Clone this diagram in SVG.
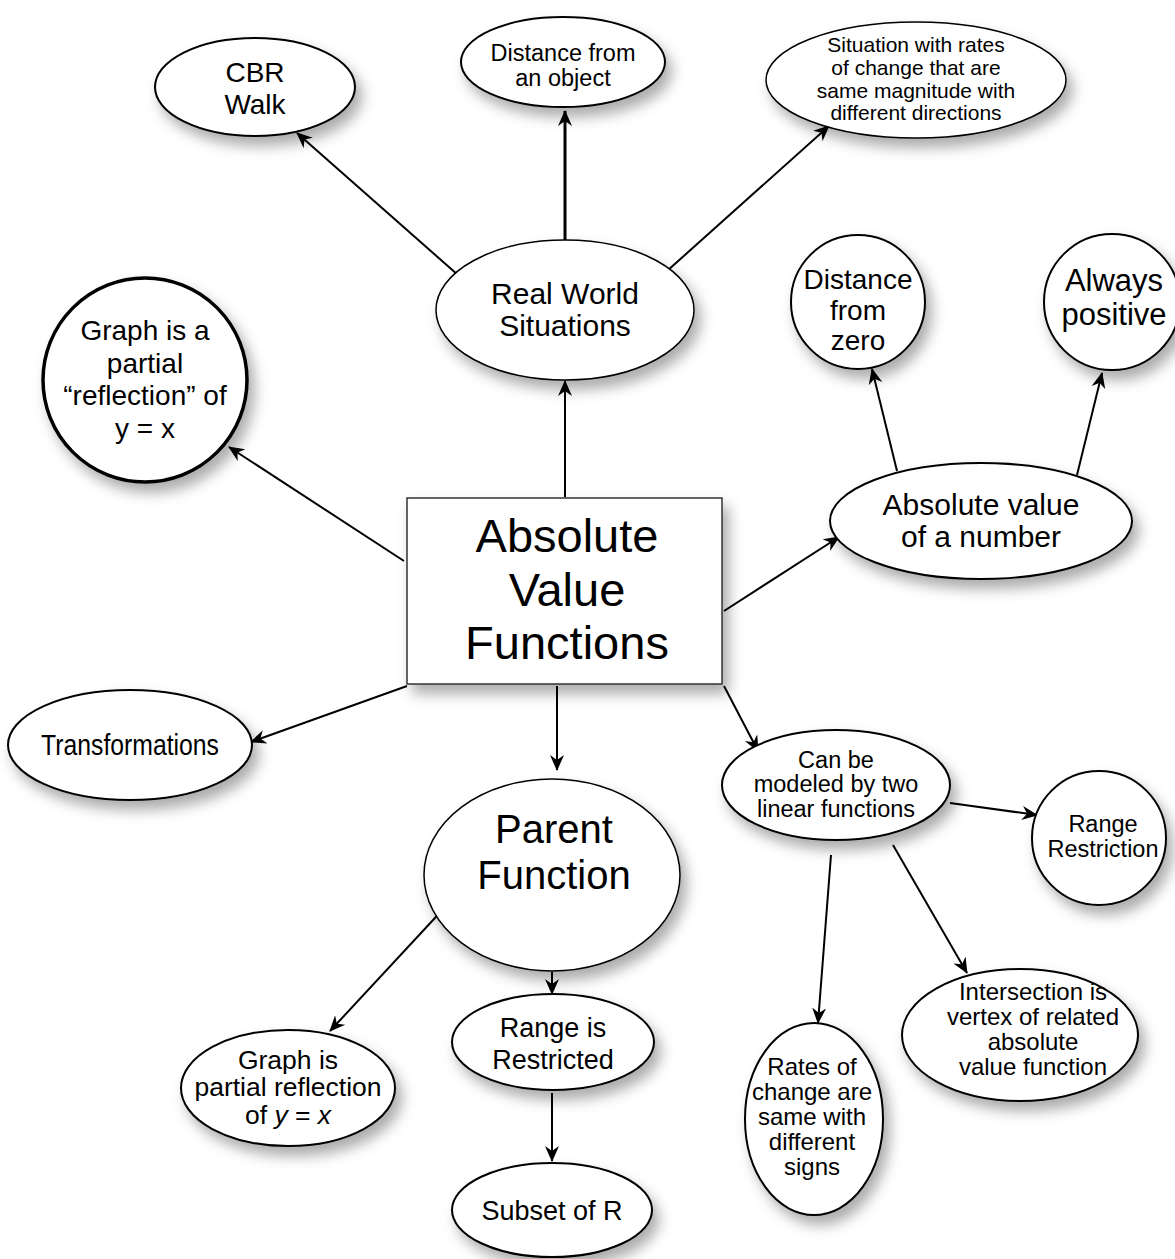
<svg xmlns="http://www.w3.org/2000/svg" width="1175" height="1259" viewBox="0 0 1175 1259">
<defs>
<filter id="sh" x="-20%" y="-20%" width="150%" height="160%">
<feDropShadow dx="6" dy="9" stdDeviation="7" flood-color="#000" flood-opacity="0.33"/>
</filter>
<marker id="ar" viewBox="0 0 16 16" refX="15" refY="8" markerWidth="16" markerHeight="16" markerUnits="userSpaceOnUse" orient="auto">
<path d="M0,1 L16,8 L0,15 L5,8 z" fill="#000"/>
</marker>
</defs>
<style>
.n{fill:#fff;stroke:#000;stroke-width:2;filter:url(#sh)}
.t{font-family:"Liberation Sans",Arial,sans-serif;fill:#000;text-anchor:middle}
.c{stroke:#000;stroke-width:2;fill:none;marker-end:url(#ar)}
</style>
<rect width="1175" height="1259" fill="#fff"/>

<g id="connectors">
<line class="c" x1="565" y1="240" x2="565" y2="111" style="stroke-width:3"/>
<line class="c" x1="458" y1="275" x2="297" y2="133"/>
<line class="c" x1="667" y1="271" x2="829" y2="126"/>
<line class="c" x1="565" y1="497" x2="565" y2="381"/>
<line class="c" x1="404" y1="561" x2="229" y2="447"/>
<line class="c" x1="724" y1="611" x2="839" y2="537"/>
<line class="c" x1="897" y1="471" x2="872" y2="369"/>
<line class="c" x1="1077" y1="475" x2="1102" y2="373"/>
<line class="c" x1="407" y1="686" x2="251" y2="742"/>
<line class="c" x1="557" y1="686" x2="557" y2="770"/>
<line class="c" x1="724" y1="686" x2="758" y2="751"/>
<line class="c" x1="950" y1="803" x2="1037" y2="815"/>
<line class="c" x1="831" y1="855" x2="818" y2="1023"/>
<line class="c" x1="893" y1="845" x2="967" y2="973"/>
<line class="c" x1="447" y1="905" x2="330" y2="1031"/>
<line class="c" x1="552" y1="972" x2="552" y2="994"/>
<line class="c" x1="552" y1="1093" x2="552" y2="1161"/>
</g>

<g id="main">
<rect class="n" x="407" y="498" width="315" height="186" style="stroke:#333;stroke-width:1.5"/>
<text class="t" font-size="47"><tspan x="567" y="552">Absolute</tspan><tspan x="567" y="606">Value</tspan><tspan x="567" y="659">Functions</tspan></text>
</g>

<g id="realworld">
<ellipse class="n" cx="565" cy="310" rx="129" ry="70" style="stroke-width:1.5"/>
<text class="t" font-size="30"><tspan x="565" y="304">Real World</tspan><tspan x="565" y="336">Situations</tspan></text>
</g>

<g id="cbr">
<ellipse class="n" cx="255" cy="87" rx="100" ry="49"/>
<text class="t" font-size="28"><tspan x="255" y="82">CBR</tspan><tspan x="255" y="114">Walk</tspan></text>
</g>

<g id="distobj">
<ellipse class="n" cx="563" cy="62" rx="102" ry="45"/>
<text class="t" font-size="23.5"><tspan x="563" y="61">Distance from</tspan><tspan x="563" y="86">an object</tspan></text>
</g>

<g id="situation">
<ellipse class="n" cx="916" cy="80" rx="150" ry="58" style="stroke-width:1.5"/>
<text class="t" font-size="21"><tspan x="916" y="52">Situation with rates</tspan><tspan x="916" y="75">of change that are</tspan><tspan x="916" y="98">same magnitude with</tspan><tspan x="916" y="120">different directions</tspan></text>
</g>

<g id="reflection1">
<circle class="n" cx="145" cy="380" r="102" style="stroke-width:3.5"/>
<text class="t" font-size="28"><tspan x="145" y="340">Graph is a</tspan><tspan x="145" y="373">partial</tspan><tspan x="145" y="405">“reflection” of</tspan><tspan x="145" y="438">y = x</tspan></text>
</g>

<g id="distzero">
<circle class="n" cx="858" cy="302" r="67"/>
<text class="t" font-size="28"><tspan x="858" y="289">Distance</tspan><tspan x="858" y="320">from</tspan><tspan x="858" y="350">zero</tspan></text>
</g>

<g id="positive">
<circle class="n" cx="1112" cy="302" r="68"/>
<text class="t" font-size="31"><tspan x="1114" y="291">Always</tspan><tspan x="1114" y="325">positive</tspan></text>
</g>

<g id="absnumber">
<ellipse class="n" cx="981" cy="521" rx="151" ry="58"/>
<text class="t" font-size="30"><tspan x="981" y="515">Absolute value</tspan><tspan x="981" y="547">of a number</tspan></text>
</g>

<g id="transformations">
<ellipse class="n" cx="130" cy="745" rx="122" ry="55"/>
<text class="t" font-size="29" x="130" y="755" textLength="178" lengthAdjust="spacingAndGlyphs">Transformations</text>
</g>

<g id="parent">
<ellipse class="n" cx="552" cy="875" rx="128" ry="96" style="stroke-width:1.5"/>
<text class="t" font-size="40"><tspan x="554" y="843">Parent</tspan><tspan x="554" y="889">Function</tspan></text>
</g>

<g id="linear">
<ellipse class="n" cx="836" cy="785" rx="114" ry="55"/>
<text class="t" font-size="23.5"><tspan x="836" y="768">Can be</tspan><tspan x="836" y="792">modeled by two</tspan><tspan x="836" y="817">linear functions</tspan></text>
</g>

<g id="rangerestriction">
<circle class="n" cx="1099" cy="838" r="67"/>
<text class="t" font-size="23.5"><tspan x="1103" y="832">Range</tspan><tspan x="1103" y="857">Restriction</tspan></text>
</g>

<g id="rates">
<ellipse class="n" cx="814" cy="1119" rx="69" ry="96"/>
<text class="t" font-size="24"><tspan x="812" y="1075">Rates of</tspan><tspan x="812" y="1100">change are</tspan><tspan x="812" y="1125">same with</tspan><tspan x="812" y="1150">different</tspan><tspan x="812" y="1175">signs</tspan></text>
</g>

<g id="intersection">
<ellipse class="n" cx="1020" cy="1035" rx="118" ry="66"/>
<text class="t" font-size="24"><tspan x="1033" y="1000">Intersection is</tspan><tspan x="1033" y="1025">vertex of related</tspan><tspan x="1033" y="1050">absolute</tspan><tspan x="1033" y="1075">value function</tspan></text>
</g>

<g id="reflection2">
<ellipse class="n" cx="288" cy="1088" rx="107" ry="58"/>
<text class="t" font-size="26.5"><tspan x="288" y="1069">Graph is</tspan><tspan x="288" y="1096">partial reflection</tspan><tspan x="288" y="1124">of <tspan font-style="italic">y</tspan> = <tspan font-style="italic">x</tspan></tspan></text>
</g>

<g id="rangerestricted">
<ellipse class="n" cx="553" cy="1042" rx="101" ry="48"/>
<text class="t" font-size="27"><tspan x="553" y="1037">Range is</tspan><tspan x="553" y="1069">Restricted</tspan></text>
</g>

<g id="subset">
<ellipse class="n" cx="552" cy="1210" rx="100" ry="47"/>
<text class="t" font-size="27" x="552" y="1220">Subset of R</text>
</g>
</svg>
